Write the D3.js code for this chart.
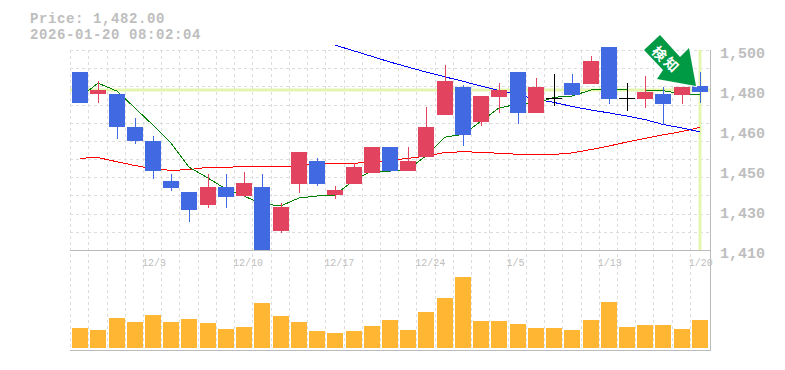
<!DOCTYPE html>
<html>
<head>
<meta charset="utf-8">
<script src="https://cdn.jsdelivr.net/npm/d3@7"></script>
<style>
  html, body { margin: 0; padding: 0; background: #fff; }
  svg { display: block; }
  text { font-family: "Liberation Mono", monospace; fill: #bebebe; }
</style>
</head>
<body>
<svg width="785" height="370"></svg>
<script>
const dates = ["11/27","11/28","12/1","12/2","12/3","12/4","12/5","12/8","12/9","12/10","12/11","12/12","12/15","12/16","12/17","12/18","12/19","12/22","12/23","12/24","12/25","12/26","12/29","12/30","1/5","1/6","1/7","1/8","1/9","1/13","1/14","1/15","1/16","1/19","1/20"];
const opens  = [1490,1480,1480,1465.3,1459,1441,1436,1430,1438.3,1434,1438.3,1418.5,1439.7,1450,1434.8,1439.7,1444.7,1456.3,1445.5,1451.9,1470.8,1483.3,1467.6,1478.9,1490.1,1471.7,1478.4,1485.1,1484.7,1501.5,1478.4,1478,1480.2,1479.8,1483.8];
const closes = [1476,1482,1465,1459,1445.6,1438,1427.7,1438.3,1434,1440,1410,1429.3,1454,1439.7,1437,1447.3,1456.3,1445.7,1450,1465.3,1486,1461.8,1479.3,1482,1471.7,1483.3,1478.4,1479.8,1495,1478,1478.4,1481.1,1475.7,1483.3,1481.3];
const highs  = [1490,1486,1480,1469.4,1461.3,1444,1436,1444,1444,1445,1444,1431,1454,1451.4,1438.8,1449,1456.3,1456.3,1456.3,1474.5,1493.2,1484.2,1479.3,1485,1490.1,1487.4,1489.2,1489.2,1497.3,1501.5,1485.1,1488.3,1483.3,1483.3,1490];
const lows   = [1476,1476,1460,1457.7,1442,1436.7,1422.7,1429,1429,1434,1410,1417.7,1435.6,1439,1433,1439.7,1444.7,1445,1445.5,1451.9,1470.8,1456.8,1465.8,1471.6,1466.7,1471.7,1474.8,1479.8,1484.7,1475.7,1472.7,1473.9,1466.2,1475.7,1476];
const volumes = [20,18,30,26,33,26,29,25,19,21,45,32,26,17,15,17,22,28,18,36,50,71,27,27,24,20,20,18,28,46,21,23,23,19,28];

// moving averages, null = no value yet
const maShort = [1478.8,1485.1,1481.5,1473.9,1466.2,1458.1,1447.3,1442.4,1437.4,1434.3,1430.7,1429.9,1433.4,1434.3,1434.7,1441.5,1445.5,1445.5,1446.4,1452.3,1460.8,1462,1468,1473.9,1475.7,1476.1,1478.7,1479.3,1482,1482.1,1482,1482,1481.7,1480.2,1479.9];
const maMiddle = [1451.3,1451.6,1449.7,1448,1446.6,1445.8,1446.2,1447.2,1447.2,1447.6,1447.4,1447.4,1447.8,1448.9,1449,1449,1449.6,1450.4,1451.2,1452.3,1453.9,1454.2,1454,1453.5,1453.1,1453.1,1453,1453.7,1455.2,1456.8,1458.6,1460.2,1461.8,1463.3,1465.2];
const maLong = [null,null,null,null,null,null,null,null,null,null,null,null,null,null,1502.2,1499.6,1497.1,1494.6,1492.3,1490.1,1487.9,1485.9,1483.8,1481.8,1479.8,1477.9,1476.4,1474.6,1473,1471.7,1470.3,1468.7,1466.5,1464.9,1463.2];

const yTicks = [1410,1428,1446,1464,1482,1500];
const yTickLabels = ["1,410","1,430","1,450","1,460","1,480","1,500"];
const xTickLabels = ["12/3","12/10","12/17","12/24","1/5","1/13","1/20"];
const gridStep = 90 / 11;
const lastPrice = 1482;

const svg = d3.select("svg");

const scX = d3.scaleBand().domain(dates).range([71, 709]);
const scY = d3.scaleLinear().domain([1410, 1500]).range([250, 50]);
const scV = d3.scaleLinear().domain([0, 98]).range([348, 250]);
const center = d => Math.round(scX(d) + scX.bandwidth() / 2);

// grid
const grid = svg.append("g")
  .attr("stroke", "#ddd")
  .attr("stroke-dasharray", "3,3")
  .attr("shape-rendering", "crispEdges");
grid.selectAll(".gx")
  .data(dates)
  .enter()
  .append("line")
  .attr("x1", d => center(d) - 10 + 0.5)
  .attr("x2", d => center(d) - 10 + 0.5)
  .attr("y1", 50)
  .attr("y2", 350);
grid.selectAll(".gy")
  .data(d3.range(1, 12).map(i => 1410 + i * gridStep))
  .enter()
  .append("line")
  .attr("x1", 70)
  .attr("x2", 710)
  .attr("y1", d => Math.round(scY(d)) + 0.5)
  .attr("y2", d => Math.round(scY(d)) + 0.5);

// last price marks
svg.append("line")
  .attr("x1", 70).attr("x2", 710)
  .attr("y1", scY(lastPrice)).attr("y2", scY(lastPrice))
  .attr("stroke", "#e4f5ae").attr("stroke-width", 3);
svg.append("line")
  .attr("x1", center(dates[34])).attr("x2", center(dates[34]))
  .attr("y1", 50).attr("y2", 250)
  .attr("stroke", "#e4f5ae").attr("stroke-width", 3);

// frame
const frame = svg.append("g").attr("stroke", "#bbb").attr("shape-rendering", "crispEdges");
frame.append("line").attr("x1", 70).attr("x2", 710).attr("y1", 250.5).attr("y2", 250.5);
frame.append("line").attr("x1", 70).attr("x2", 710).attr("y1", 350.5).attr("y2", 350.5);
frame.append("line").attr("x1", 710.5).attr("x2", 710.5).attr("y1", 50).attr("y2", 351);

// moving averages under the candles
function drawLine(values, color) {
  const line = d3.line()
    .defined(d => d !== null)
    .x((d, i) => center(dates[i]))
    .y(d => scY(d));
  svg.append("path")
    .attr("d", line(values))
    .attr("fill", "none")
    .attr("stroke", color)
    .attr("stroke-width", 1)
    .attr("shape-rendering", "crispEdges");
}
drawLine(maMiddle, "#ff0000");
drawLine(maLong, "#0000ff");
drawLine(maShort, "#008000");

// candles
const candleColor = i => closes[i] > opens[i] ? "#e24460" : closes[i] < opens[i] ? "#4169e1" : "#000";
svg.selectAll(".wick")
  .data(dates)
  .enter()
  .append("line")
  .attr("x1", d => center(d)).attr("x2", d => center(d))
  .attr("y1", (d, i) => scY(highs[i])).attr("y2", (d, i) => scY(lows[i]))
  .attr("stroke", (d, i) => candleColor(i))
  .attr("stroke-width", 1)
  .attr("shape-rendering", "crispEdges");
svg.selectAll(".body")
  .data(dates)
  .enter()
  .append("rect")
  .attr("x", d => center(d) - 8)
  .attr("width", 16)
  .attr("y", (d, i) => Math.round(scY(Math.max(opens[i], closes[i]))))
  .attr("height", (d, i) => Math.max(1, Math.round(Math.abs(scY(opens[i]) - scY(closes[i])))))
  .attr("fill", (d, i) => candleColor(i));

// volume
svg.selectAll(".vol")
  .data(dates)
  .enter()
  .append("rect")
  .attr("x", d => center(d) - 8)
  .attr("width", 16)
  .attr("y", (d, i) => scV(volumes[i]))
  .attr("height", (d, i) => scV(0) - scV(volumes[i]))
  .attr("fill", "#ffb733");

// axis labels
svg.selectAll(".ly")
  .data(yTicks)
  .enter()
  .append("text")
  .attr("x", 720)
  .attr("y", d => scY(d) + 8)
  .attr("font-size", 15)
  .attr("font-weight", "bold")
  .text((d, i) => yTickLabels[i]);
svg.selectAll(".lx")
  .data(xTickLabels)
  .enter()
  .append("text")
  .attr("x", d => scX(d) - 2)
  .attr("y", 266)
  .attr("font-size", 10)
  .text(d => d);

// title, slightly smaller font with spacing so the two lines keep the same width but do not touch
svg.append("text").attr("x", 30).attr("y", 22.5).attr("font-size", 14).attr("letter-spacing", 0.6).attr("font-weight", "bold").text("Price: 1,482.00");
svg.append("text").attr("x", 30).attr("y", 38.5).attr("font-size", 14).attr("letter-spacing", 0.6).attr("font-weight", "bold").text("2026-01-20 08:02:04");

// signal arrow
svg.append("path")
  .attr("d", "M660,35L644,50L663,70L657,79L696,86L689,48L680,57Z")
  .attr("fill", "#009944")
  .attr("stroke", "#fff")
  .attr("stroke-width", 2)
  .attr("paint-order", "stroke");
svg.append("text")
  .attr("transform", "translate(660,53) rotate(45)")
  .attr("text-anchor", "middle")
  .attr("dominant-baseline", "central")
  .attr("font-size", 14)
  .attr("font-weight", "bold")
  .style("font-family", "'Noto Sans CJK JP'")
  .style("fill", "#fff")
  .text("検");
svg.append("text")
  .attr("transform", "translate(672,64) rotate(45)")
  .attr("text-anchor", "middle")
  .attr("dominant-baseline", "central")
  .attr("font-size", 14)
  .attr("font-weight", "bold")
  .style("font-family", "'Noto Sans CJK JP'")
  .style("fill", "#fff")
  .text("知");
</script>
</body>
</html>
